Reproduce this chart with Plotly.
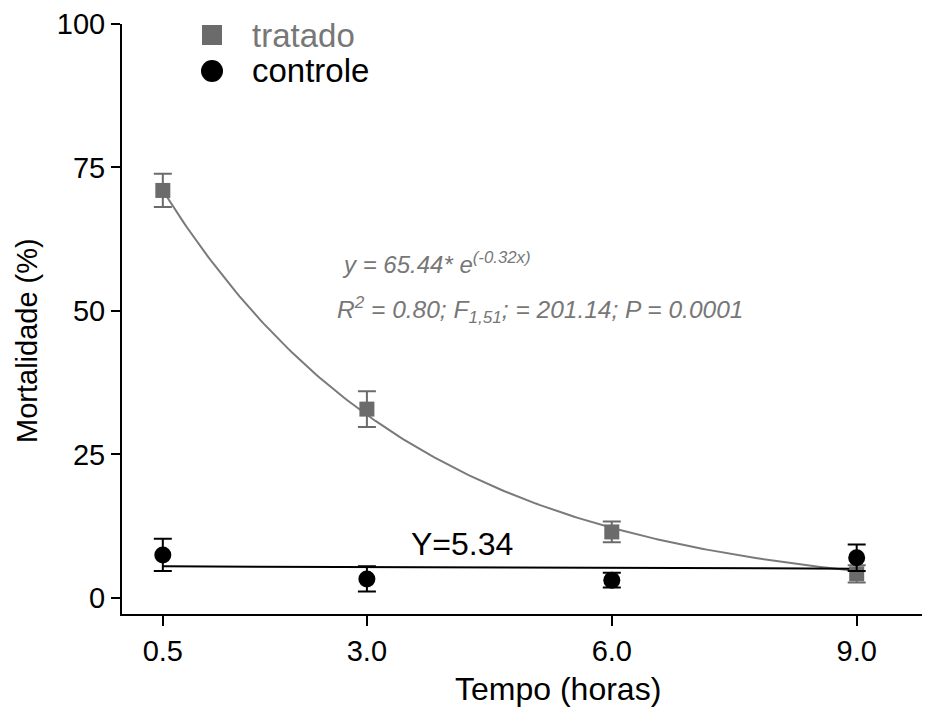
import numpy as np
import plotly.graph_objects as go

# ---- data ----
tempo = [0.5, 3.0, 6.0, 9.0]
tick_labels = ["0.5", "3.0", "6.0", "9.0"]
tratado = [71.0, 32.9, 11.5, 4.2]
tratado_err = [2.9, 3.1, 1.8, 1.5]
controle = [7.5, 3.3, 3.1, 7.0]
controle_err = [2.8, 2.2, 1.3, 2.3]
# fitted exponential curve parameters (drawn curve) and control mean line
fit_a = 83.3
fit_b = 0.32
controle_line = [5.5, 5.1]

FONT = "Liberation Sans, Arial, sans-serif"
GRAY = "#6b6b6b"

# page body has an 8px margin: figure is drawn at (8, 8)
OFF = 8
FIG_W, FIG_H = 930 - 2 * OFF, 713 - OFF
# plot-area geometry in screen pixels
SL, SR, ST, SB = 122, 922, 24, 614
def px(xs):
    return (xs - SL) / (SR - SL)
def py(ys):
    return (SB - ys) / (SB - ST)

xs = np.linspace(tempo[0], tempo[-1], 200)
ys = fit_a * np.exp(-fit_b * xs)

fig = go.Figure()
fig.add_trace(go.Scatter(x=xs, y=ys, mode="lines", line=dict(color="#7a7a7a", width=2),
                         showlegend=False, hoverinfo="skip"))
fig.add_trace(go.Scatter(x=[tempo[0], tempo[-1]], y=controle_line, mode="lines",
                         line=dict(color="black", width=2), showlegend=False, hoverinfo="skip"))
fig.add_trace(go.Scatter(
    x=tempo, y=tratado, mode="markers", name="tratado", showlegend=False,
    marker=dict(symbol="square", size=15, color=GRAY),
    error_y=dict(type="data", array=tratado_err, color=GRAY, thickness=2, width=9)))
fig.add_trace(go.Scatter(
    x=tempo, y=controle, mode="markers", name="controle", showlegend=False,
    marker=dict(symbol="circle", size=17, color="black"),
    error_y=dict(type="data", array=controle_err, color="black", thickness=2, width=9)))

fig.update_layout(
    width=FIG_W, height=FIG_H,
    margin=dict(l=SL - OFF, r=FIG_W - (SR - OFF), t=ST - OFF, b=FIG_H - (SB - OFF)),
    paper_bgcolor="white", plot_bgcolor="white",
    font=dict(family=FONT, size=29, color="black"),
    showlegend=False,
)
fig.update_xaxes(range=[0.0, 9.8], tickvals=tempo, ticktext=tick_labels, automargin=False,
                 showline=True, linecolor="black", linewidth=2, ticks="outside",
                 ticklen=10, tickwidth=2, tickcolor="black", showgrid=False, zeroline=False,
                 tickfont=dict(size=29))
fig.update_yaxes(range=[-2.8, 100], tickvals=[0, 25, 50, 75, 100], automargin=False,
                 showline=True, linecolor="black", linewidth=2, ticks="outside",
                 ticklen=9, tickwidth=2, tickcolor="black", showgrid=False, zeroline=False,
                 tickfont=dict(size=29))

# legend (drawn by hand)
fig.add_shape(type="rect", xref="paper", yref="paper",
              x0=px(202), x1=px(222), y0=py(45), y1=py(25),
              fillcolor=GRAY, line=dict(width=0))
fig.add_shape(type="circle", xref="paper", yref="paper",
              x0=px(201), x1=px(223), y0=py(82), y1=py(60),
              fillcolor="black", line=dict(width=0))
fig.add_annotation(text="tratado", xref="paper", yref="paper", x=px(250), y=py(35),
                   xanchor="left", yanchor="middle", showarrow=False,
                   font=dict(size=33, color="#777777"))
fig.add_annotation(text="controle", xref="paper", yref="paper", x=px(250), y=py(71),
                   xanchor="left", yanchor="middle", showarrow=False,
                   font=dict(size=33, color="black"))

fig.add_annotation(text="Mortalidade (%)", xref="paper", yref="paper",
                   x=px(27), y=py(341), textangle=-90, showarrow=False,
                   font=dict(size=29), xanchor="center", yanchor="middle")
fig.add_annotation(text="Tempo (horas)", xref="paper", yref="paper",
                   x=px(558), y=py(689), showarrow=False,
                   font=dict(size=32), xanchor="center", yanchor="middle")

fig.add_annotation(text="<i>y = 65.44* e<sup>(-0.32x)</sup></i>", x=2.67, y=58.4,
                   xanchor="left", yanchor="middle", showarrow=False,
                   font=dict(size=24, color="#777777"))
fig.add_annotation(text="<i>R<sup>2</sup> = 0.80; F<sub>1,51</sub>; = 201.14; P = 0.0001</i>",
                   x=2.61, y=50.2, xanchor="left", yanchor="middle", showarrow=False,
                   font=dict(size=24.5, color="#777777"))
fig.add_annotation(text="Y=5.34", x=4.17, y=9.4, xanchor="center", yanchor="middle",
                   showarrow=False, font=dict(size=32, color="black"))

fig.write_html("out.html")
